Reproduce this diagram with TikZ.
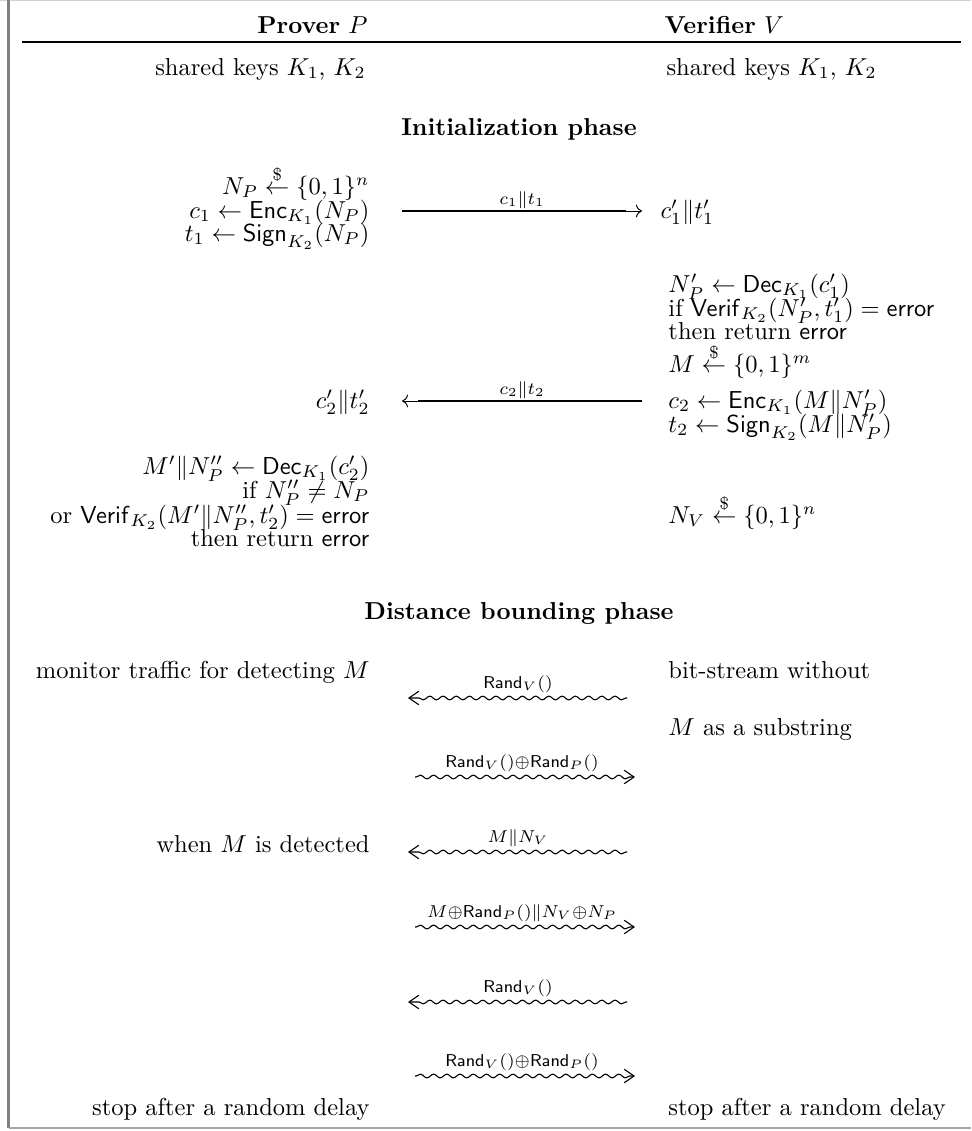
\documentclass[tikz,border=0pt]{standalone}
\usetikzlibrary{arrows.meta,decorations.pathmorphing,calc}
\begin{document}
\begin{tikzpicture}[x=0.40815pt,y=-0.40815pt,
  lt/.style={anchor=mid east, inner sep=0pt},
  rt/.style={anchor=mid west, inner sep=0pt},
  ttl/.style={anchor=mid, inner sep=0pt, font=\bfseries},
  msg/.style={line width=0.8pt},
  msgtip/.style={line width=0.4pt},
  wav/.style={line width=0.45pt, decorate, decoration={snake, amplitude=0.75pt, segment length=5.4pt, pre length=0.5pt, post length=2pt}},
  wtip/.style={-{Straight Barb[length=4pt,width=5.5pt]}},
  lbl/.style={anchor=base, inner sep=0pt}
]
\useasboundingbox (0,0) rectangle (971,1131);
% frame
\draw[gray!35, line width=0.5pt] (0,0.6) -- (971,0.6);
\draw[gray, line width=1pt] (8.5,0) -- (8.5,1128);
\draw[gray!70, line width=0.8pt] (8.5,1128) -- (971,1128);
% header
\node[lt] (hp) at (368,28) {\textbf{Prover} $P$};
\node[rt] (hv) at (664,28) {\textbf{Verifier} $V$};
\coordinate (ruleL) at (22,42);
\coordinate (ruleR) at (961,42);
\draw[line width=0.8pt] (ruleL) -- (ruleR);
\node[lt] (kp) at (366,70) {shared keys $K_1$, $K_2$};
\node[rt] (kv) at (666,70) {shared keys $K_1$, $K_2$};
% initialization
\node[ttl] (ini) at (519,130) {Initialization phase};
\node[lt] (p1) at (370,189) {$N_P \stackrel{\$}{\leftarrow} \{0,1\}^n$};
\node[lt] (p2) at (370,213) {$c_1 \leftarrow \mathsf{Enc}_{K_1}(N_P)$};
\node[lt] (p3) at (370,236) {$t_1 \leftarrow \mathsf{Sign}_{K_2}(N_P)$};
\coordinate (a1s) at (402,211);
\coordinate (a1e) at (642,211);
\draw[msg] (a1s) -- ($(a1e)+(-16,0)$);
\draw[msgtip,-To] ($(a1e)+(-20,0)$) -- (a1e);
\node[lbl] (a1l) at (522,204) {$\scriptstyle c_1\|t_1$};
\node[rt] (v0) at (660,213) {$c'_1\|t'_1$};
\node[rt] (v1) at (668,287) {$N'_P \leftarrow \mathsf{Dec}_{K_1}(c'_1)$};
\node[rt] (v2) at (668,311) {if $\mathsf{Verif}_{K_2}(N'_P,t'_1)=\mathsf{error}$};
\node[rt] (v3) at (668,334) {then return $\mathsf{error}$};
\node[rt] (v4) at (668,367) {$M \stackrel{\$}{\leftarrow} \{0,1\}^m$};
\node[rt] (v5) at (668,403) {$c_2 \leftarrow \mathsf{Enc}_{K_1}(M\|N'_P)$};
\node[rt] (v6) at (668,427) {$t_2 \leftarrow \mathsf{Sign}_{K_2}(M\|N'_P)$};
\node[lt] (p4) at (370,403) {$c'_2\|t'_2$};
\coordinate (a2s) at (642,401);
\coordinate (a2e) at (402,401);
\draw[msg] (a2s) -- ($(a2e)+(16,0)$);
\draw[msgtip,-To] ($(a2e)+(20,0)$) -- (a2e);
\node[lbl] (a2l) at (522,394) {$\scriptstyle c_2\|t_2$};
\node[lt] (p5) at (370,469) {$M'\|N''_P \leftarrow \mathsf{Dec}_{K_1}(c'_2)$};
\node[lt] (p6) at (370,493) {if $N''_P \neq N_P$};
\node[lt] (p7) at (370,518) {or $\mathsf{Verif}_{K_2}(M'\|N''_P,t'_2)=\mathsf{error}$};
\node[lt] (p8) at (370,541) {then return $\mathsf{error}$};
\node[rt] (v7) at (668,518) {$N_V \stackrel{\$}{\leftarrow} \{0,1\}^n$};
% distance bounding
\node[ttl] (dbp) at (519,614) {Distance bounding phase};
\node[lt] (d1) at (370,673) {monitor traffic for detecting $M$};
\node[rt] (e1) at (668,673) {bit-stream without};
\node[rt] (e2) at (668,730) {$M$ as a substring};
\node[lt] (d2) at (370,847) {when $M$ is detected};
\node[lt] (d3) at (370,1110) {stop after a random delay};
\node[rt] (e3) at (668,1110) {stop after a random delay};
% wavy messages
\coordinate (w1s) at (627,698); \coordinate (w1e) at (408,698);
\draw[wav,wtip] (w1s) -- (w1e);
\node[lbl] (w1l) at (518,688) {$\scriptstyle \mathsf{Rand}_V()$};
\coordinate (w2s) at (415,777); \coordinate (w2e) at (635,777);
\draw[wav,wtip] (w2s) -- (w2e);
\node[lbl] (w2l) at (522,767) {$\scriptstyle \mathsf{Rand}_V(){\oplus}\mathsf{Rand}_P()$};
\coordinate (w3s) at (627,852); \coordinate (w3e) at (408,852);
\draw[wav,wtip] (w3s) -- (w3e);
\node[lbl] (w3l) at (518,842) {$\scriptstyle M\|N_V$};
\coordinate (w4s) at (415,927); \coordinate (w4e) at (635,927);
\draw[wav,wtip] (w4s) -- (w4e);
\node[lbl] (w4l) at (522,917) {$\scriptstyle M\oplus\mathsf{Rand}_P()\|N_V\oplus N_P$};
\coordinate (w5s) at (627,1002); \coordinate (w5e) at (408,1002);
\draw[wav,wtip] (w5s) -- (w5e);
\node[lbl] (w5l) at (518,992) {$\scriptstyle \mathsf{Rand}_V()$};
\coordinate (w6s) at (415,1076); \coordinate (w6e) at (635,1076);
\draw[wav,wtip] (w6s) -- (w6e);
\node[lbl] (w6l) at (522,1066) {$\scriptstyle \mathsf{Rand}_V(){\oplus}\mathsf{Rand}_P()$};
\end{tikzpicture}
\end{document}
